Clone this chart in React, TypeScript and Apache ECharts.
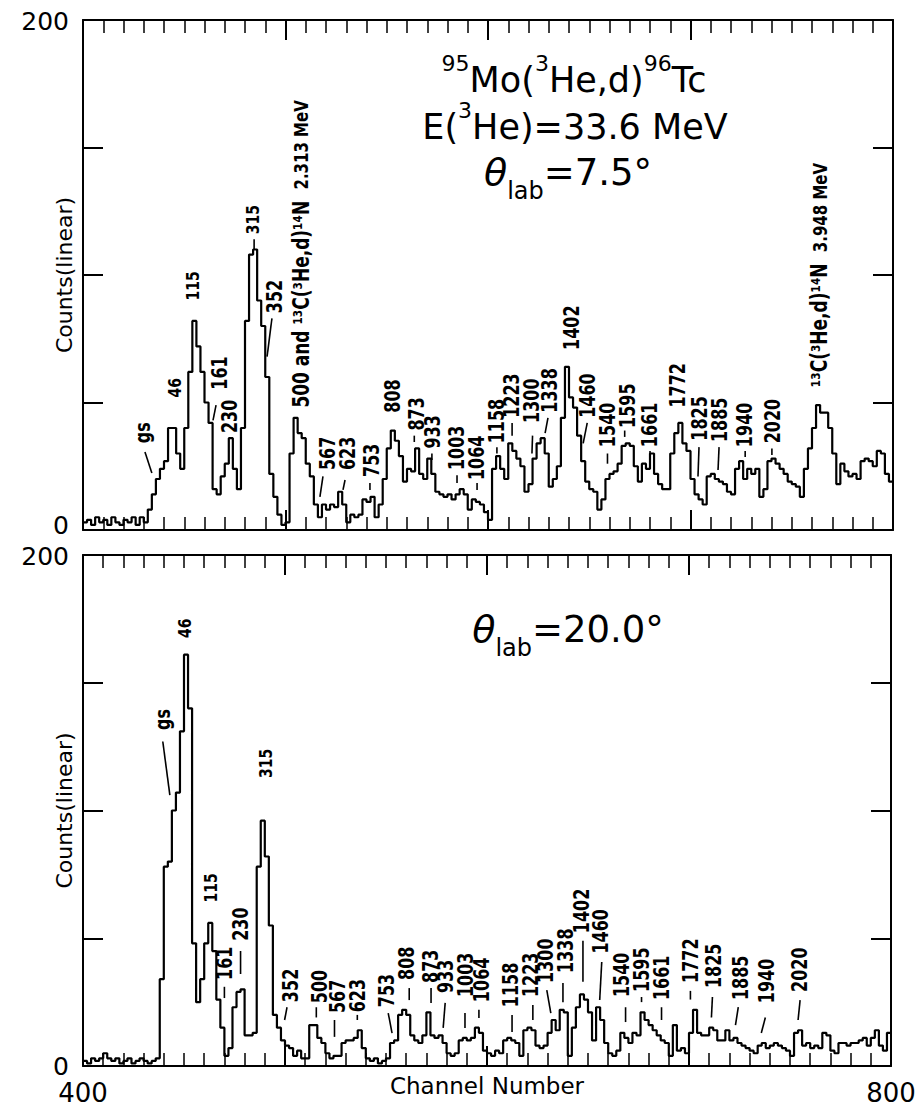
import React, { useEffect, useRef } from 'react';
import * as echarts from 'echarts';

const FONT = 'DejaVu Sans';
const channelStart = 400;
const binWidth = 2;

// Counts per 2-channel bin, theta_lab = 7.5 deg (channels 400..798)
const topCounts = [
  3, 4, 2, 5, 3, 4, 2, 5, 3, 2,
  4, 3, 5, 2, 5, 3, 8, 14, 20, 24,
  27, 40, 40, 30, 24, 40, 62, 82, 72, 62,
  50, 42, 16, 14, 21, 26, 36, 24, 16, 40,
  82, 108, 110, 90, 80, 60, 22, 13, 6, 2,
  3, 30, 44, 38, 36, 26, 21, 10, 5, 10,
  8, 10, 9, 15, 10, 3, 6, 5, 6, 12,
  11, 13, 5, 10, 20, 32, 39, 35, 29, 19,
  24, 23, 32, 22, 20, 28, 22, 15, 14, 13,
  14, 12, 14, 16, 14, 8, 12, 11, 10, 7,
  4, 24, 29, 24, 20, 34, 31, 28, 25, 15,
  18, 28, 34, 36, 30, 17, 20, 25, 44, 64,
  52, 48, 37, 27, 19, 16, 15, 8, 12, 20,
  22, 23, 26, 33, 34, 33, 25, 19, 26, 24,
  30, 22, 18, 16, 16, 30, 38, 42, 34, 31,
  20, 14, 12, 10, 21, 22, 20, 19, 18, 15,
  14, 24, 27, 20, 24, 22, 24, 13, 16, 27,
  28, 26, 24, 22, 19, 18, 17, 13, 24, 32,
  40, 49, 46, 46, 40, 30, 18, 26, 23, 21,
  22, 20, 27, 28, 27, 25, 31, 30, 22, 19,
];

// Counts per 2-channel bin, theta_lab = 20.0 deg (channels 400..798)
const bottomCounts = [
  2, 1, 3, 2, 3, 5, 3, 2, 3, 1,
  2, 3, 1, 2, 3, 2, 1, 2, 3, 34,
  78, 80, 100, 107, 131, 161, 140, 48, 25, 34,
  48, 56, 45, 26, 15, 4, 7, 23, 29, 30,
  12, 12, 13, 78, 96, 82, 55, 20, 15, 10,
  8, 7, 4, 6, 3, 3, 16, 16, 11, 9,
  5, 3, 4, 4, 9, 10, 10, 11, 14, 7,
  3, 2, 3, 1, 2, 3, 9, 10, 20, 22,
  20, 12, 10, 9, 12, 21, 12, 11, 12, 9,
  5, 4, 5, 10, 11, 10, 11, 15, 13, 6,
  5, 4, 6, 5, 10, 11, 10, 9, 4, 14,
  15, 14, 8, 7, 8, 13, 18, 14, 22, 21,
  4, 15, 23, 28, 26, 21, 10, 23, 18, 9,
  5, 4, 6, 13, 11, 9, 13, 12, 21, 18,
  16, 14, 12, 10, 9, 4, 16, 6, 7, 5,
  13, 22, 13, 12, 12, 15, 14, 10, 10, 14,
  10, 11, 9, 8, 7, 6, 5, 8, 9, 7,
  8, 9, 8, 7, 6, 4, 13, 14, 8, 9,
  7, 8, 7, 13, 12, 6, 5, 9, 9, 8,
  9, 9, 10, 11, 8, 11, 14, 8, 6, 13,
];

const xTickLabels = ['400', '800'];
const yTickLabels = ['0', '200'];

// Peak labels: [text, channel, count where the text starts]
const topPeakLabels: [string, number, number][] = [
  ['gs', 429.6, 34], ['46', 445.4, 52], ['115', 454.3, 90], ['161', 467.7, 55],
  ['230', 472.6, 38], ['315', 484, 116], ['352', 494.8, 85],
  ['500 and ¹³C(³He,d)¹⁴N|2.313 MeV', 508, 48],
  ['567', 521, 23.5], ['623', 530.9, 23.5], ['753', 542.7, 20.8], ['808', 553, 46],
  ['873', 564.7, 39], ['933', 572.8, 32], ['1003', 584.7, 23.5], ['1064', 594.6, 19.6],
  ['1158', 604.4, 34], ['1223', 611.9, 44], ['1300', 621.7, 42], ['1338', 630.6, 46],
  ['1402', 641.5, 70.6], ['1460', 649.4, 44], ['1540', 659, 32.5], ['1595', 669, 40],
  ['1661', 680, 32.5], ['1772', 693.8, 48], ['1825', 704.7, 35], ['1885', 714.6, 34.5],
  ['1940', 727, 32.5], ['2020', 740.7, 34], ['¹³C(³He,d)¹⁴N|3.948 MeV', 764, 56],
];
// Leader lines: [channel1, count1, channel2, count2] or null
const topLeaders: ([number, number, number, number] | null)[] = [
  [430.6, 30.6, 434, 22.4], null, null, [465.7, 49, 464.2, 43],
  null, [484.5, 114, 484.5, 110], [493.3, 83, 490.9, 68],
  null,
  [518.5, 21, 517, 13], [529.4, 19.6, 528.4, 15.7], [541.7, 18.4, 541.7, 15.7], null,
  [563.6, 37, 563.6, 34.5], [572.3, 30, 572.3, 27.5], [584.7, 21.5, 584.7, 18.4], [594.6, 18.4, 594.6, 15.7],
  [604.4, 32.5, 604.4, 30], [611.9, 42, 611.9, 37], [622, 37, 621.7, 30], [629.6, 44, 628.2, 38],
  null, [649, 42, 647, 34], [659, 30, 659, 26], [667.5, 39, 667.5, 36.5],
  [680, 31, 680, 29], null, [704.2, 32.5, 703.7, 21], [714.1, 32.5, 713.6, 23.5],
  [727, 31, 727, 28.6], [740.2, 32, 740.2, 29.4], null,
];

const bottomPeakLabels: [string, number, number][] = [
  ['gs', 439.5, 131.5], ['46', 450.4, 167.5], ['115', 463.2, 64], ['161', 470, 33.7],
  ['230', 478, 49], ['315', 490.4, 112.7], ['352', 502.7, 25], ['500', 517, 24.6],
  ['567', 526, 20.7], ['623', 535.8, 21], ['753', 550.6, 23], ['808', 560.5, 33.7],
  ['873', 572.3, 32.5], ['933', 579.8, 28.6], ['1003', 589.6, 27], ['1064', 597.5, 25],
  ['1158', 611.9, 23], ['1223', 621.7, 27], ['1300', 629.1, 32.5], ['1338', 639, 36.4],
  ['1402', 647, 52], ['1460', 656.3, 44], ['1540', 666.7, 27], ['1595', 676.5, 29],
  ['1661', 686.4, 25.8], ['1772', 700.7, 32.5], ['1825', 712, 30.5], ['1885', 725.4, 25.8],
  ['1940', 738.3, 24.6], ['2020', 755, 29],
];
const bottomLeaders: ([number, number, number, number] | null)[] = [
  [439.5, 127, 443, 106], null, null, [470, 31, 470, 26.6],
  [478, 45, 478, 36], null, [501, 23, 499.8, 18], [515.5, 23, 515.5, 19],
  [524.5, 18, 524.5, 11.4], [535.8, 20, 535.8, 18], [551.1, 20.7, 553, 12.9], [561.5, 30.5, 561.5, 25.8],
  [572.3, 30.5, 572.3, 24.7], [579.3, 24.7, 578.3, 14.9], [589.1, 20.7, 589.1, 14.9], [596, 22, 596, 18.8],
  [612.4, 20, 612.4, 13.3], [622.7, 23.9, 622.7, 18], [629.6, 29.7, 631.6, 20.7], [637.6, 32.5, 637.6, 25],
  [647.5, 49, 647.5, 33], [656.8, 40.7, 655.8, 25.8], [668.6, 23, 668.6, 17.2], [676.5, 27, 676.5, 25],
  [686.4, 23, 686.4, 18], [700.7, 29.4, 700.7, 26], [711.6, 27, 711.1, 19], [724.4, 23, 723, 16],
  [737.8, 19, 735.8, 12.9], [755, 25.8, 754, 18],
];

const smallLabelTexts = ['46', '115', '315'];

function toSteps(counts: number[]) {
  const pts = counts.map((v, i) => [channelStart + i * binWidth, v]);
  pts.push([channelStart + counts.length * binWidth, counts[counts.length - 1]]);
  return pts;
}

function makeLabelSeries(labels: [string, number, number][], leaders: any[], axisIdx: number) {
  return {
    type: 'custom',
    xAxisIndex: axisIdx,
    yAxisIndex: axisIdx,
    clip: false,
    silent: true,
    z: 5,
    data: labels.map((l) => [l[1], l[2]]),
    renderItem: (params: any, api: any) => {
      const lab = labels[params.dataIndex];
      const ld = leaders[params.dataIndex];
      const p = api.coord([lab[1], lab[2]]);
      const small = smallLabelTexts.includes(lab[0]);
      const parts = lab[0].split('|');
      const style: any = {
        fill: '#000',
        fontFamily: FONT,
        fontSize: small ? 14 : 16,
        fontWeight: 'bold',
        align: 'left',
        verticalAlign: 'middle',
      };
      if (parts.length > 1) {
        style.text = `{a|${parts[0]}}  {b|${parts[1]}}`;
        style.rich = {
          a: { fontSize: 17, fontWeight: 'bold', fontFamily: FONT, fill: '#000' },
          b: { fontSize: 15, fontWeight: 'bold', fontFamily: FONT, fill: '#000' },
        };
      } else {
        style.text = lab[0];
      }
      const children: any[] = [
        { type: 'text', x: p[0], y: p[1], rotation: Math.PI / 2, scaleY: 1.3, style },
      ];
      if (ld) {
        const a = api.coord([ld[0], ld[1]]);
        const b = api.coord([ld[2], ld[3]]);
        children.push({
          type: 'line',
          shape: { x1: a[0], y1: a[1], x2: b[0], y2: b[1] },
          style: { stroke: '#000', lineWidth: 1.6 },
        });
      }
      return { type: 'group', children };
    },
  };
}

function xAxisDef(grid: number, pos: 'bottom' | 'top', labels: boolean, name?: string) {
  return {
    type: 'value',
    gridIndex: grid,
    position: pos,
    min: 400,
    max: 800,
    interval: 100,
    axisLine: { show: true, onZero: false, lineStyle: { color: '#000', width: 2 } },
    axisTick: { show: true, inside: true, length: 20, lineStyle: { color: '#000', width: 2 } },
    minorTick: { show: true, splitNumber: 10, length: 13, lineStyle: { color: '#000', width: 1.5 } },
    splitLine: { show: false },
    axisLabel: {
      show: labels,
      margin: 14,
      color: '#000',
      fontFamily: FONT,
      fontSize: 26,
      formatter: (v: number) => (xTickLabels.includes(String(v)) ? String(v) : ''),
    },
    name: name || '',
    nameLocation: 'middle',
    nameGap: 8,
    nameMoveOverlap: false,
    nameTextStyle: { color: '#000', fontFamily: FONT, fontSize: 23, verticalAlign: 'top' },
  };
}

function yAxisDef(grid: number, pos: 'left' | 'right', labels: boolean, raiseZero: boolean) {
  return {
    type: 'value',
    gridIndex: grid,
    position: pos,
    min: 0,
    max: 200,
    interval: 50,
    axisLine: { show: true, onZero: false, lineStyle: { color: '#000', width: 2 } },
    axisTick: { show: true, inside: true, length: 20, lineStyle: { color: '#000', width: 2 } },
    splitLine: { show: false },
    axisLabel: {
      show: labels,
      margin: 14,
      color: '#000',
      fontFamily: FONT,
      fontSize: 25,
      formatter: (v: number) => {
        const s = String(v);
        if (!yTickLabels.includes(s)) return '';
        if (v === 0 && raiseZero) return '{up|' + s + '}';
        if (v === 200) return '{dn|' + s + '}';
        return s;
      },
      rich: {
        up: { fontSize: 25, fontFamily: FONT, color: '#000', padding: [0, 0, 10, 0] },
        dn: { fontSize: 25, fontFamily: FONT, color: '#000', padding: [2, 0, 0, 0] },
      },
    },
    name: labels ? 'Counts(linear)' : '',
    nameLocation: 'middle',
    nameGap: 8,
    nameMoveOverlap: false,
    nameTextStyle: { color: '#000', fontFamily: FONT, fontSize: 22 },
  };
}

export default function App() {
  const ref = useRef<HTMLDivElement>(null);
  useEffect(() => {
    if (!ref.current) return;
    const chart = echarts.init(ref.current, undefined, { renderer: 'svg' });
    const supRich = {
      s: { fontSize: 22, lineHeight: 26, verticalAlign: 'top', fontFamily: FONT, fill: '#000' },
      n: { fontSize: 35, lineHeight: 56, fontFamily: FONT, fill: '#000' },
    };
    const thetaRich = {
      th: { fontSize: 38, lineHeight: 62, fontStyle: 'italic', fontFamily: FONT, fill: '#000' },
      sub: { fontSize: 24, lineHeight: 24, verticalAlign: 'bottom', fontFamily: FONT, fill: '#000' },
      n: { fontSize: 37, lineHeight: 62, fontFamily: FONT, fill: '#000' },
    };
    chart.setOption({
      animation: false,
      backgroundColor: '#fff',
      grid: [
        { left: 83, top: 20, width: 810, height: 510, outerBoundsMode: 'none', containLabel: false },
        { left: 83, top: 555, width: 808, height: 511, outerBoundsMode: 'none', containLabel: false },
      ],
      xAxis: [
        xAxisDef(0, 'bottom', false),
        xAxisDef(0, 'top', false),
        xAxisDef(1, 'bottom', true, 'Channel Number'),
        xAxisDef(1, 'top', false),
      ],
      yAxis: [
        yAxisDef(0, 'left', true, true),
        yAxisDef(0, 'right', false, false),
        yAxisDef(1, 'left', true, false),
        yAxisDef(1, 'right', false, false),
      ],
      series: [
        {
          type: 'line',
          xAxisIndex: 0,
          yAxisIndex: 0,
          step: 'end',
          symbol: 'none',
          silent: true,
          lineStyle: { color: '#000', width: 2.2 },
          data: toSteps(topCounts),
        },
        {
          type: 'line',
          xAxisIndex: 2,
          yAxisIndex: 2,
          step: 'end',
          symbol: 'none',
          silent: true,
          lineStyle: { color: '#000', width: 2.2 },
          data: toSteps(bottomCounts),
        },
        makeLabelSeries(topPeakLabels, topLeaders, 0),
        makeLabelSeries(bottomPeakLabels, bottomLeaders, 2),
      ],
      graphic: [
        {
          type: 'text',
          x: 574,
          y: 80,
          style: {
            text: '{s|95}{n|Mo(}{s|3}{n|He,d)}{s|96}{n|Tc}',
            rich: supRich,
            align: 'center',
            verticalAlign: 'middle',
            fill: '#000',
          },
        },
        {
          type: 'text',
          x: 575,
          y: 127,
          style: {
            text: '{n|E(}{s|3}{n|He)=33.6 MeV}',
            rich: supRich,
            align: 'center',
            verticalAlign: 'middle',
            fill: '#000',
          },
        },
        {
          type: 'text',
          x: 568,
          y: 172,
          style: {
            text: '{th|θ}{sub|lab}{n|=7.5°}',
            rich: thetaRich,
            align: 'center',
            verticalAlign: 'middle',
            fill: '#000',
          },
        },
        {
          type: 'text',
          x: 568,
          y: 629,
          style: {
            text: '{th|θ}{sub|lab}{n|=20.0°}',
            rich: thetaRich,
            align: 'center',
            verticalAlign: 'middle',
            fill: '#000',
          },
        },
      ],
    });
    return () => chart.dispose();
  }, []);
  return (
    <div
      ref={ref}
      style={{ position: 'fixed', left: 0, top: 0, width: 923, height: 1107, background: '#fff' }}
    />
  );
}
